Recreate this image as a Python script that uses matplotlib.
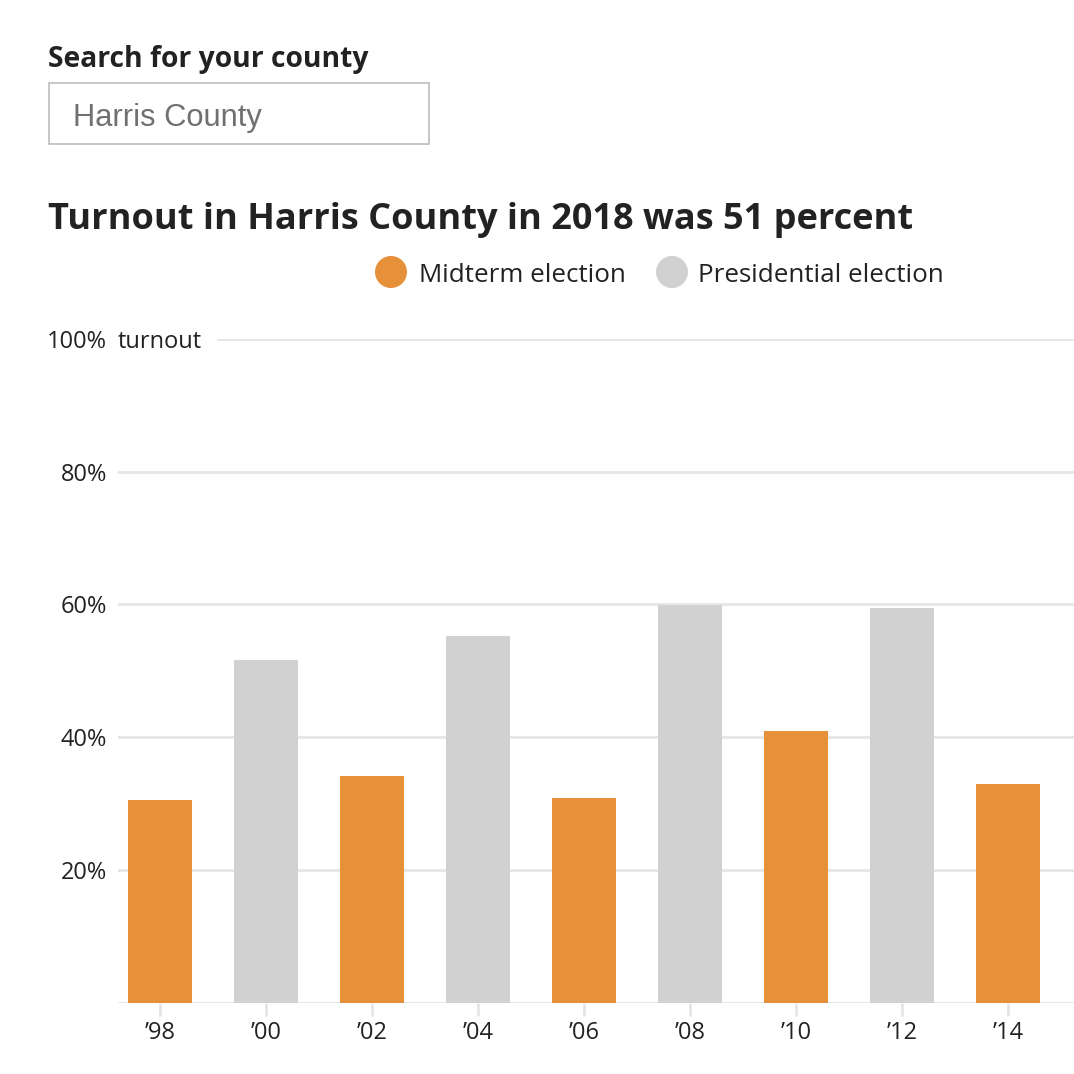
import matplotlib
matplotlib.use('Agg')
import matplotlib.pyplot as plt
from matplotlib.patches import Rectangle, Circle

# turnout data
years = ["\u201998", "\u201900", "\u201902", "\u201904", "\u201906", "\u201908", "\u201910", "\u201912", "\u201914"]
turnout = [30.6, 51.7, 34.2, 55.3, 30.9, 59.9, 40.9, 59.5, 33.0]
kind = ["mid", "pres", "mid", "pres", "mid", "pres", "mid", "pres", "mid"]
yticks = [20, 40, 60, 80, 100]
ytick_labels = ["20%", "40%", "60%", "80%", "100%"]

orange = "#e6903a"
grey = "#d1d1d1"
grid_c = "#e6e6e6"
txt = "#222222"

W = H = 1074
fig = plt.figure(figsize=(W / 100, H / 100), dpi=100)
fig.patch.set_facecolor("white")


def fx(x):
    return x / W


def fy(y):
    return 1 - y / H


# header bits
fig.text(fx(48), fy(67), "Search for your county", fontfamily="Open Sans",
         fontweight="bold", fontsize=20.3, color=txt, va="baseline")
fig.patches.append(Rectangle((fx(49), fy(144)), fx(380), (144 - 83) / H,
                             transform=fig.transFigure, fill=False,
                             edgecolor="#bdbdbd", linewidth=1.2))
fig.text(fx(73), fy(126), "Harris County", fontfamily="Liberation Sans",
         fontsize=22.2, color="#707070", va="baseline")
fig.text(fx(48), fy(229), "Turnout in Harris County in 2018 was 51 percent",
         fontfamily="Open Sans", fontweight="bold", fontsize=26, color=txt,
         va="baseline")

# legend
for cx, col, lab, tx in [(391, orange, "Midterm election", 419),
                         (672, grey, "Presidential election", 698)]:
    fig.patches.append(Circle((fx(cx), fy(272)), 16 / W, transform=fig.transFigure,
                              facecolor=col, edgecolor="none"))
    fig.text(fx(tx), fy(282), lab, fontfamily="Open Sans", fontsize=18.7,
             color=txt, va="baseline")

# chart
x0, x1, ytop, ybot = 118, 1074, 339, 1002.7
ax = fig.add_axes([fx(x0), fy(ybot), (x1 - x0) / W, (ybot - ytop) / H])
ax.set_ylim(0, 100)
ax.set_xlim(-0.396, 8.62)

cols = [orange if k == "mid" else grey for k in kind]
ax.bar(range(len(years)), turnout, width=0.6, color=cols, zorder=2)

for t in yticks[:-1]:
    ax.axhline(t, color=grid_c, linewidth=2, zorder=1)
ax.axhline(100, xmin=(218 - x0) / (x1 - x0), color=grid_c, linewidth=2, zorder=1)
ax.axhline(0, color=grid_c, linewidth=2, zorder=1)

for s in ax.spines.values():
    s.set_visible(False)

ax.set_yticks(yticks)
ax.set_yticklabels(ytick_labels, fontfamily="Open Sans", fontsize=17, color=txt)
ax.tick_params(axis="y", length=0, pad=8)
ax.text(0, 100, "turnout", transform=ax.get_yaxis_transform(),
        fontfamily="Open Sans", fontsize=17, color=txt, va="center_baseline",
        ha="left")

ax.set_xticks(range(len(years)))
ax.set_xticklabels(years, fontfamily="Open Sans", fontsize=17, color=txt)
ax.tick_params(axis="x", length=9, width=2, color=grid_c, pad=4)

fig.savefig("out.png", dpi=100, facecolor="white")
